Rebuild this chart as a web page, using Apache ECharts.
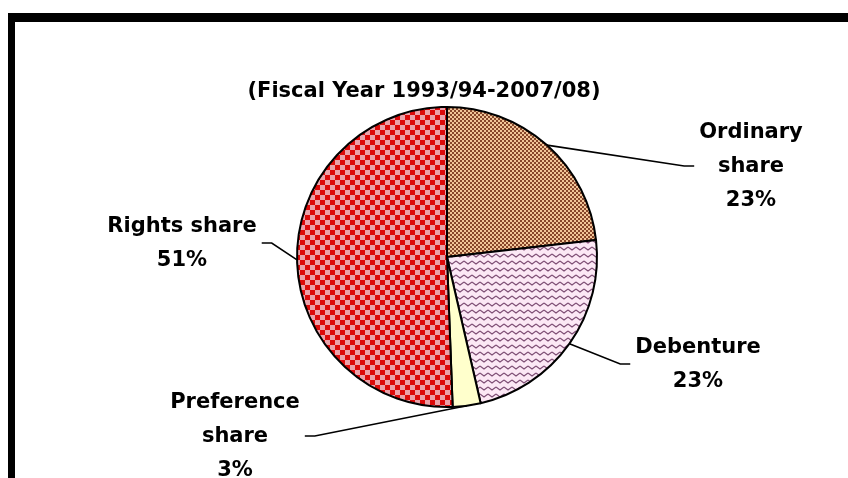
<!DOCTYPE html>
<html>
<head>
<meta charset="utf-8">
<script src="https://cdn.jsdelivr.net/npm/echarts@6/dist/echarts.min.js"></script>
<style>
  html, body { margin: 0; padding: 0; background: #fff; }
  #chart { width: 848px; height: 478px; }
</style>
</head>
<body>
<div id="chart"></div>
<script>
// data
const categories = ['Ordinary\nshare', 'Debenture', 'Preference\nshare', 'Rights share'];
const shareValues = [23.2, 23.2, 3.0, 50.6];
const titleText = '(Fiscal Year 1993/94-2007/08)';

// label block centres (layout only)
const labelPos = [[751, 167], [698, 365], [235, 437], [182, 244]];
const pieCenter = [447, 257];

// fill patterns
const checker = (size, c1, c2) => {
    const cv = document.createElement('canvas');
    cv.width = cv.height = size * 2;
    const ctx = cv.getContext('2d');
    ctx.fillStyle = c1;
    ctx.fillRect(0, 0, size * 2, size * 2);
    ctx.fillStyle = c2;
    ctx.fillRect(0, 0, size, size);
    ctx.fillRect(size, size, size, size);
    return cv;
};
const zigzag = () => {
    const cv = document.createElement('canvas');
    cv.width = 8;
    cv.height = 7;
    const ctx = cv.getContext('2d');
    ctx.fillStyle = '#fce8f5';
    ctx.fillRect(0, 0, 8, 7);
    ctx.strokeStyle = '#7e4e74';
    ctx.lineWidth = 1.1;
    ctx.beginPath();
    ctx.moveTo(0, 2);
    ctx.lineTo(4, 5);
    ctx.lineTo(8, 2);
    ctx.stroke();
    return cv;
};
const fills = [
    { image: checker(2, '#f2c598', '#87462a'), repeat: 'repeat' },
    { image: zigzag(), repeat: 'repeat' },
    '#ffffcc',
    { image: checker(5, '#eba2aa', '#dc0a0a'), repeat: 'repeat' },
];

const fontFamily = '"DejaVu Sans", sans-serif';

var myChart = echarts.init(document.getElementById('chart'));
var option = {
    backgroundColor: '#fff',
    animation: false,
    title: {
        text: titleText,
        left: 'center',
        top: 76,
        textStyle: {
            fontFamily: fontFamily,
            fontSize: 21,
            fontWeight: 'bold',
            color: '#000',
        },
    },
    graphic: [
        // thick frame (left + top edges visible)
        { type: 'rect', shape: { x: 8, y: 13, width: 7, height: 470 }, style: { fill: '#000' } },
        { type: 'rect', shape: { x: 8, y: 13, width: 845, height: 9 }, style: { fill: '#000' } },
    ],
    series: [
        {
            type: 'pie',
            center: pieCenter,
            radius: 150,
            startAngle: 90,
            clockwise: true,
            avoidLabelOverlap: false,
            emphasis: { disabled: true },
            itemStyle: {
                borderColor: '#000',
                borderWidth: 2,
            },
            label: {
                show: true,
                position: 'outside',
                fontFamily: fontFamily,
                fontSize: 21,
                fontWeight: 'bold',
                color: '#000',
                lineHeight: 34,
                align: 'center',
                formatter: (p) => p.name + '\n' + Math.round(p.percent) + '%',
            },
            labelLine: {
                show: true,
                length: 20,
                length2: 10,
                lineStyle: { color: '#000', width: 1.6 },
            },
            labelLayout: function (p) {
                const pos = labelPos[p.dataIndex];
                const w = p.labelRect.width;
                const side = pos[0] > pieCenter[0] ? -1 : 1;
                const endX = pos[0] + side * (w / 2 + 5);
                const elbowX = endX + side * 10;
                const lineY = pos[1] - 1;
                return {
                    x: pos[0],
                    y: pos[1],
                    align: 'center',
                    verticalAlign: 'middle',
                    labelLinePoints: [p.labelLinePoints[0], [elbowX, lineY], [endX, lineY]],
                };
            },
            data: categories.map((name, i) => ({
                name: name,
                value: shareValues[i],
                itemStyle: { color: fills[i] },
            })),
        },
    ],
};

myChart.setOption(option);
</script>
</body>
</html>
